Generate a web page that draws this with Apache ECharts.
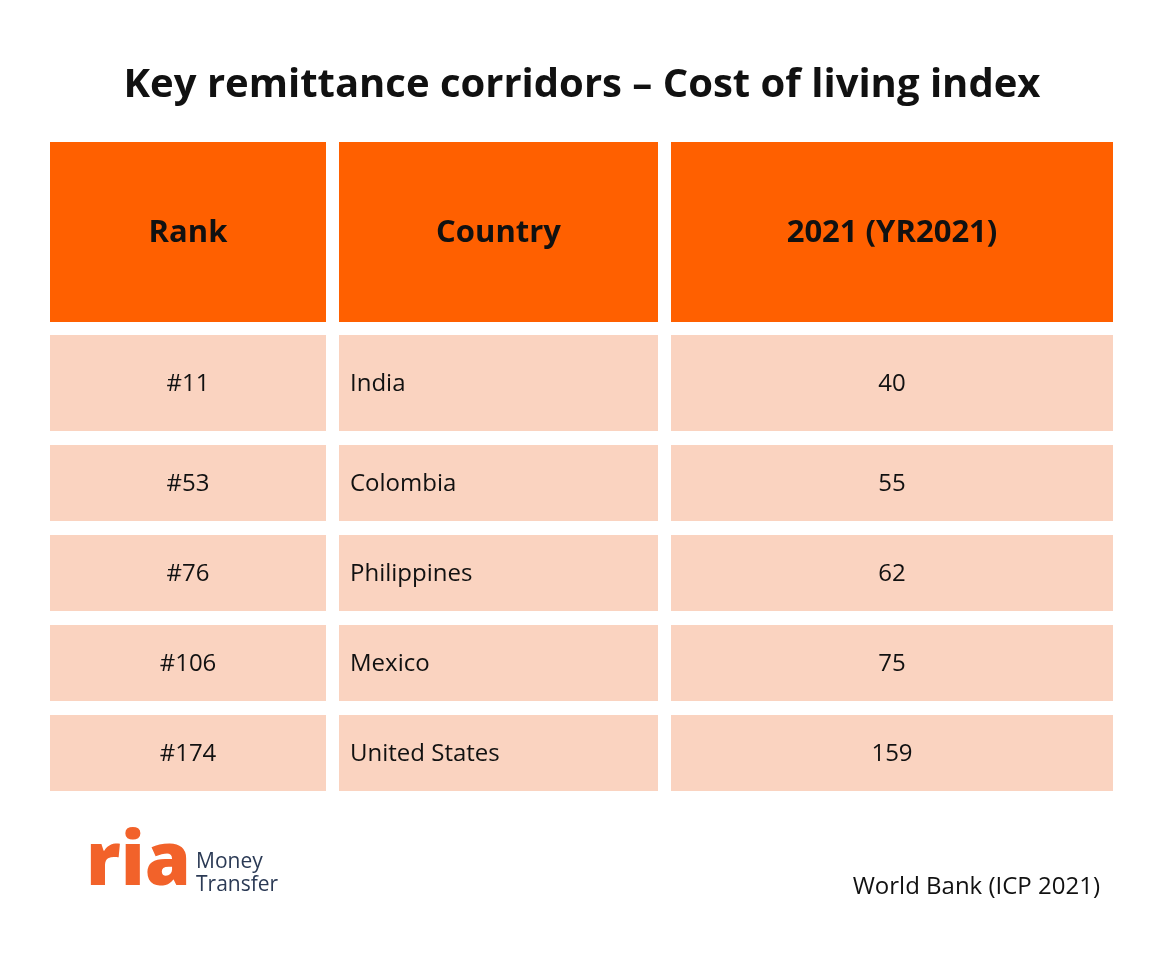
<!DOCTYPE html>
<html><head><meta charset="utf-8">
<script src="https://cdn.jsdelivr.net/npm/echarts@6/dist/echarts.min.js"></script>
<style>html,body{margin:0;padding:0;background:#fff}#main{width:1164px;height:972px}</style>
</head><body><div id="main"></div>
<script>
// table data
var headers = ['Rank', 'Country', '2021 (YR2021)'];
var ranks = ['#11', '#53', '#76', '#106', '#174'];
var countries = ['India', 'Colombia', 'Philippines', 'Mexico', 'United States'];
var values = [40, 55, 62, 75, 159];

// layout
var colX = [[50, 326], [339, 658], [671, 1113]];
var rowY = [[142, 322], [335, 431], [445, 521], [535, 611], [625, 701], [715, 791]];
var headColor = '#ff6000';
var cellColor = '#fad3c0';
var font = '"Open Sans","Noto Sans",sans-serif';

var els = [];
function cell(c, r, txt, bold, size, align) {
  var x0 = colX[c][0], x1 = colX[c][1], y0 = rowY[r][0], y1 = rowY[r][1];
  els.push({type: 'rect', shape: {x: x0, y: y0, width: x1 - x0, height: y1 - y0},
    style: {fill: r === 0 ? headColor : cellColor}});
  els.push({type: 'text', x: align === 'left' ? x0 + 11 : (x0 + x1) / 2, y: (y0 + y1) / 2 + 1,
    style: {text: String(txt), fill: '#111', font: (bold ? 'bold ' : '') + size + 'px ' + font,
      textAlign: align || 'center', textVerticalAlign: 'middle'}});
}
headers.forEach(function (h, i) { cell(i, 0, h, true, 31); });
ranks.forEach(function (rk, i) {
  cell(0, i + 1, rk, false, 24);
  cell(1, i + 1, countries[i], false, 24, 'left');
  cell(2, i + 1, values[i], false, 24);
});

// logo + source
els.push({type: 'text', x: 86, y: 864, style: {text: 'ria', fill: '#f2622a',
  font: '800 74px ' + font, textVerticalAlign: 'middle'}});
els.push({type: 'text', x: 196, y: 862, style: {text: 'Money', fill: '#2b3a55',
  font: '21px ' + font, textVerticalAlign: 'middle'}});
els.push({type: 'text', x: 196, y: 885, style: {text: 'Transfer', fill: '#2b3a55',
  font: '21px ' + font, textVerticalAlign: 'middle'}});
els.push({type: 'text', x: 1100, y: 887, style: {text: 'World Bank (ICP 2021)', fill: '#111',
  font: '24px ' + font, textAlign: 'right', textVerticalAlign: 'middle'}});

var chart = echarts.init(document.getElementById('main'));
chart.setOption({
  backgroundColor: '#fff',
  title: {text: 'Key remittance corridors \u2013 Cost of living index', left: 'center', top: 61,
    textStyle: {fontSize: 40, fontWeight: 'bold', color: '#111', fontFamily: font}},
  graphic: els
});
</script></body></html>
